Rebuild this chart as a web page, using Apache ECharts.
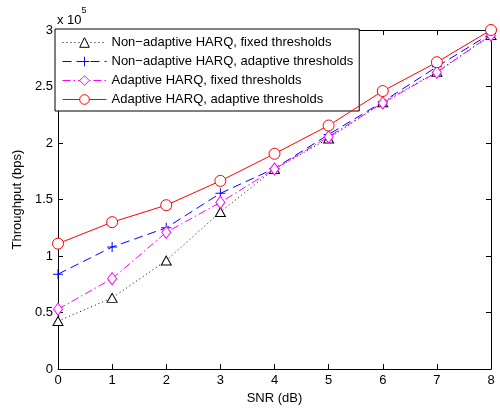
<!DOCTYPE html>
<html><head><meta charset="utf-8">
<script src="https://cdn.jsdelivr.net/npm/echarts@6/dist/echarts.min.js"></script>
<style>html,body{margin:0;padding:0;background:#fff}#c{width:500px;height:410px}</style>
</head><body><div id="c"></div>
<script>
var snr = [0, 1, 2, 3, 4, 5, 6, 7, 8];
var nonAdaptiveFixed = [0.425, 0.63, 0.96, 1.39, 1.77, 2.04, 2.36, 2.63, 2.955];
var nonAdaptiveAdaptive = [0.84, 1.08, 1.25, 1.555, 1.775, 2.075, 2.365, 2.675, 2.97];
var adaptiveFixed = [0.53, 0.80, 1.21, 1.475, 1.77, 2.055, 2.355, 2.625, 2.955];
var adaptiveAdaptive = [1.11, 1.30, 1.45, 1.665, 1.905, 2.155, 2.46, 2.715, 3.0];
var names = ['Non\u2212adaptive HARQ, fixed thresholds','Non\u2212adaptive HARQ, adaptive thresholds','Adaptive HARQ, fixed thresholds','Adaptive HARQ, adaptive thresholds'];
var yTicks = [0, 0.5, 1, 1.5, 2, 2.5, 3];
var scale = 1e5;

function pairs(arr){ return snr.map(function(x,i){ return [x, arr[i]*scale]; }); }
var font = 'Liberation Sans, Arial, Helvetica, sans-serif';
var plus = 'path://M4.5,0h1v10h-1zM0,4.5h10v1h-10z';

var chart = echarts.init(document.getElementById('c'), null, {renderer:'canvas'});
var axisCommon = {
  min: 0, axisLine:{show:true, onZero:false, lineStyle:{color:'#000', width:1}},
  axisTick:{show:true, inside:true, length:5, lineStyle:{color:'#000'}},
  splitLine:{show:false}
};
chart.setOption({
  animation:false,
  textStyle:{fontFamily:font},
  grid:{left:58, right:9, top:30, bottom:39, show:false},
  xAxis:[
    Object.assign({}, axisCommon, {type:'value', max:8, interval:1, position:'bottom',
      name:'SNR (dB)', nameLocation:'middle', nameGap:19,
      nameTextStyle:{color:'#000', fontSize:13, fontFamily:font},
      axisLabel:{color:'#000', fontSize:13, margin:5, fontFamily:font}}),
    Object.assign({}, axisCommon, {type:'value', max:8, interval:1, position:'top',
      axisLabel:{show:false}})
  ],
  yAxis:[
    Object.assign({}, axisCommon, {type:'value', max:3*scale, interval:0.5*scale, position:'left',
      name:'Throughput (bps)', nameLocation:'middle', nameGap:24, nameRotate:90,
      nameTextStyle:{color:'#000', fontSize:13, fontFamily:font},
      axisLabel:{color:'#000', fontSize:13, margin:5, fontFamily:font,
        formatter:function(v){ var t=v/scale; var k=yTicks.indexOf(t); return k>=0 ? String(yTicks[k]) : ''; }}}),
    Object.assign({}, axisCommon, {type:'value', max:3*scale, interval:0.5*scale, position:'right',
      axisLabel:{show:false}})
  ],
  legend:{
    orient:'vertical', left:55, top:29,
    backgroundColor:'#fff', borderColor:'#000', borderWidth:1,
    padding:[7,6,5,7], itemGap:6, itemWidth:44, itemHeight:12,
    textStyle:{color:'#000', fontSize:13, fontFamily:font},
    lineStyle:{width:1},
    itemStyle:{borderWidth:1},
    data:names
  },
  graphic:[{
    type:'text', left:57, top:6,
    style:{text:'{a|x 10}{b|5}', rich:{
      a:{fontSize:13, fontFamily:font, fill:'#000', padding:[8,0,0,0]},
      b:{fontSize:9, fontFamily:font, fill:'#000', verticalAlign:'top'}
    }}
  }],
  series:[
    {name:names[0], type:'line', data:pairs(nonAdaptiveFixed), symbol:'triangle', symbolSize:[10,9],
      itemStyle:{color:'#fff', borderColor:'#000', borderWidth:1},
      lineStyle:{color:'#000', width:1, type:[1,3]}, z:2},
    {name:names[1], type:'line', data:pairs(nonAdaptiveAdaptive), symbol:plus, symbolSize:10,
      itemStyle:{color:'#0000ff', borderWidth:0},
      lineStyle:{color:'#0000ff', width:1, type:[9,5]}, z:3},
    {name:names[2], type:'line', data:pairs(adaptiveFixed), symbol:'diamond', symbolSize:[9,12],
      itemStyle:{color:'#fff', borderColor:'#ff00ff', borderWidth:1},
      lineStyle:{color:'#ff00ff', width:1, type:[8,3,1.5,3]}, z:4},
    {name:names[3], type:'line', data:pairs(adaptiveAdaptive), symbol:'circle', symbolSize:11,
      itemStyle:{color:'#fff', borderColor:'#ff0000', borderWidth:1},
      lineStyle:{color:'#ff0000', width:1}, z:5}
  ]
});
</script></body></html>
